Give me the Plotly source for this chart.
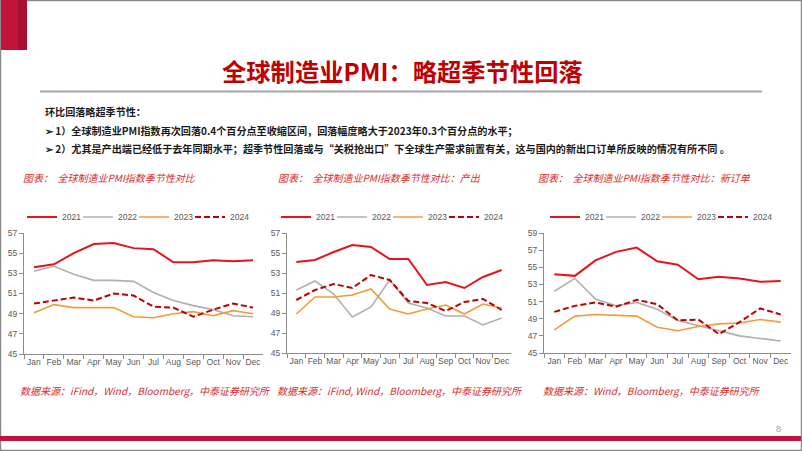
import plotly.graph_objects as go

W, H = 802, 451

months = ["Jan", "Feb", "Mar", "Apr", "May", "Jun", "Jul", "Aug", "Sep", "Oct", "Nov", "Dec"]
years = ["2021", "2022", "2023", "2024"]

# Chart 1: global manufacturing PMI
pmi_2021 = [53.6, 53.9, 55.0, 55.9, 56.0, 55.5, 55.4, 54.1, 54.1, 54.3, 54.2, 54.3]
pmi_2022 = [53.2, 53.7, 52.9, 52.3, 52.3, 52.2, 51.1, 50.3, 49.8, 49.4, 48.8, 48.7]
pmi_2023 = [49.1, 49.9, 49.6, 49.6, 49.6, 48.7, 48.6, 49.0, 49.2, 48.8, 49.3, 49.0]
pmi_2024 = [50.0, 50.3, 50.6, 50.3, 51.0, 50.8, 49.7, 49.6, 48.7, 49.4, 50.0, 49.6]

# Chart 2: output
out_2021 = [54.1, 54.3, 55.1, 55.8, 55.6, 54.4, 54.4, 51.8, 52.1, 51.5, 52.6, 53.3]
out_2022 = [51.3, 52.2, 50.9, 48.6, 49.6, 52.3, 50.0, 49.5, 48.7, 48.7, 47.8, 48.5]
out_2023 = [48.9, 50.6, 50.6, 50.8, 51.4, 49.4, 48.9, 49.4, 49.8, 48.9, 49.9, 49.5]
out_2024 = [50.3, 51.3, 51.9, 51.5, 52.8, 52.3, 50.2, 50.0, 49.2, 50.1, 50.4, 49.3]

# Chart 3: new orders
no_2021 = [54.2, 54.0, 55.8, 56.8, 57.3, 55.7, 55.3, 53.6, 53.9, 53.7, 53.3, 53.4]
no_2022 = [52.2, 53.7, 51.3, 50.5, 50.9, 50.1, 48.8, 48.2, 47.6, 47.0, 46.7, 46.4]
no_2023 = [47.7, 49.3, 49.5, 49.4, 49.3, 48.0, 47.6, 48.1, 48.4, 48.5, 48.9, 48.6]
no_2024 = [49.8, 50.5, 50.9, 50.4, 51.2, 50.7, 48.8, 48.9, 47.2, 48.6, 50.2, 49.5]

charts = [
    dict(series=[pmi_2021, pmi_2022, pmi_2023, pmi_2024], yr=[45, 57], xpx=(24, 263), ypx=(233, 354),
         legx=22),
    dict(series=[out_2021, out_2022, out_2023, out_2024], yr=[45, 57], xpx=(287, 511), ypx=(233, 353),
         legx=276),
    dict(series=[no_2021, no_2022, no_2023, no_2024], yr=[45, 59], xpx=(544, 791), ypx=(233, 353),
         legx=545),
]
LEG_STEP = 56

styles = [
    dict(color="#e5141b", width=2.0, dash="solid"),
    dict(color="#b0b0b0", width=1.6, dash="solid"),
    dict(color="#f39a3a", width=1.6, dash="solid"),
    dict(color="#c00000", width=2.0, dash="6px,3px"),
]

def px(x):
    return x / W

def py(y):
    return 1 - y / H

fig = go.Figure()
layout = dict(
    width=W, height=H, margin=dict(l=0, r=0, t=0, b=0, autoexpand=False),
    paper_bgcolor="white", plot_bgcolor="white",
    font=dict(family="Liberation Sans, Arial, sans-serif", color="#595959"),
    showlegend=True,
)

leg_idx = 0
for i, c in enumerate(charts):
    n = "" if i == 0 else str(i + 1)
    for j, (vals, st) in enumerate(zip(c["series"], styles)):
        leg_idx += 1
        legname = "legend" if leg_idx == 1 else "legend" + str(leg_idx)
        fig.add_trace(go.Scatter(
            x=months, y=vals, mode="lines", name=years[j],
            line=dict(color=st["color"], width=st["width"], dash=st["dash"]),
            xaxis="x" + n, yaxis="y" + n, legend=legname, hoverinfo="skip",
        ))
        layout[legname] = dict(
            orientation="h", x=px(c["legx"] + j * LEG_STEP), xanchor="left", y=py(217), yanchor="middle",
            font=dict(size=8.5, color="#595959"), itemwidth=30,
            bgcolor="rgba(0,0,0,0)", itemclick=False, itemdoubleclick=False,
        )
    layout["xaxis" + n] = dict(
        domain=[px(c["xpx"][0]), px(c["xpx"][1])], anchor="y" + n,
        type="category", range=[-0.5, 11.5], tickson="boundaries", tickangle=0,
        showline=True, linecolor="#8c8c8c", linewidth=1,
        ticks="outside", ticklen=4, tickcolor="#8c8c8c",
        showgrid=False, zeroline=False, fixedrange=True,
        tickfont=dict(size=8.5, color="#595959"),
    )
    layout["yaxis" + n] = dict(
        domain=[py(c["ypx"][1]), py(c["ypx"][0])], anchor="x" + n,
        range=c["yr"], dtick=2, tick0=45,
        showline=True, linecolor="#8c8c8c", linewidth=1,
        ticks="outside", ticklen=4, tickcolor="#8c8c8c",
        showgrid=False, zeroline=False, fixedrange=True,
        tickfont=dict(size=8.5, color="#595959"),
    )

cjk = "Noto Sans CJK SC, sans-serif"
red_text = "#d92b2b"

ann = []
# Title
ann.append(dict(text="<b>全球制造业PMI：略超季节性回落</b>", x=px(402), y=py(70), xref="paper", yref="paper",
                xanchor="center", yanchor="middle", showarrow=False,
                font=dict(family=cjk, size=24.3, color="#c00000")))
# Body text
body = [
    ("<b>环比回落略超季节性：</b>", 112),
    ("<b>➢ 1）全球制造业PMI指数再次回落0.4个百分点至收缩区间，回落幅度略大于2023年0.3个百分点的水平；</b>", 130),
    ("<b>➢ 2）尤其是产出端已经低于去年同期水平；超季节性回落或与“关税抢出口”下全球生产需求前置有关，这与国内的新出口订单所反映的情况有所不同 。</b>", 148),
]
for t, yy in body:
    ann.append(dict(text=t, x=px(43), y=py(yy), xref="paper", yref="paper", xanchor="left", yanchor="middle",
                    showarrow=False, font=dict(family=cjk, size=10.1, color="#1a1a1a")))
captions = [
    ("<i>图表：  全球制造业PMI指数季节性对比</i>", 21),
    ("<i>图表：  全球制造业PMI指数季节性对比：产出</i>", 276),
    ("<i>图表：  全球制造业PMI指数季节性对比：新订单</i>", 536),
]
for t, xx in captions:
    ann.append(dict(text=t, x=px(xx), y=py(177), xref="paper", yref="paper", xanchor="left", yanchor="middle",
                    showarrow=False, font=dict(family=cjk, size=10, color=red_text)))
sources = [
    ("<i>数据来源：iFind，Wind，Bloomberg，中泰证券研究所</i>", 18),
    ("<i>数据来源：iFind, Wind，Bloomberg，中泰证券研究所</i>", 275),
    ("<i>数据来源：Wind，Bloomberg，中泰证券研究所</i>", 541),
]
for t, xx in sources:
    ann.append(dict(text=t, x=px(xx), y=py(390), xref="paper", yref="paper", xanchor="left", yanchor="middle",
                    showarrow=False, font=dict(family=cjk, size=10, color=red_text)))
ann.append(dict(text="8", x=px(778), y=py(429), xref="paper", yref="paper", xanchor="center", yanchor="middle",
                showarrow=False, font=dict(size=9, color="#a0a0a0")))

shapes = [
    # slide border
    dict(type="rect", xref="paper", yref="paper", x0=px(0.5), x1=px(801.5), y0=py(450.5), y1=py(0.5),
         line=dict(color="#8a8a8a", width=1.5), fillcolor="rgba(0,0,0,0)", layer="above"),
    # top-left red block
    dict(type="rect", xref="paper", yref="paper", x0=px(1), x1=px(27), y0=py(50), y1=py(0),
         line=dict(width=0), fillcolor="#c0143c"),
    dict(type="rect", xref="paper", yref="paper", x0=px(18), x1=px(27), y0=py(50), y1=py(0),
         line=dict(width=0), fillcolor="#a80f30"),
    # title underline
    dict(type="line", xref="paper", yref="paper", x0=px(40), x1=px(762), y0=py(91.5), y1=py(91.5),
         line=dict(color="#a6a6a6", width=2)),
    # bottom red bar
    dict(type="rect", xref="paper", yref="paper", x0=px(0), x1=px(801), y0=py(441), y1=py(436),
         line=dict(width=0), fillcolor="#c0143c"),
]

layout["annotations"] = ann
layout["shapes"] = shapes
fig.update_layout(**layout)
fig.write_html("out.html", config={"displayModeBar": False},
               post_script="document.body.style.margin='0';document.body.style.overflow='hidden';")
